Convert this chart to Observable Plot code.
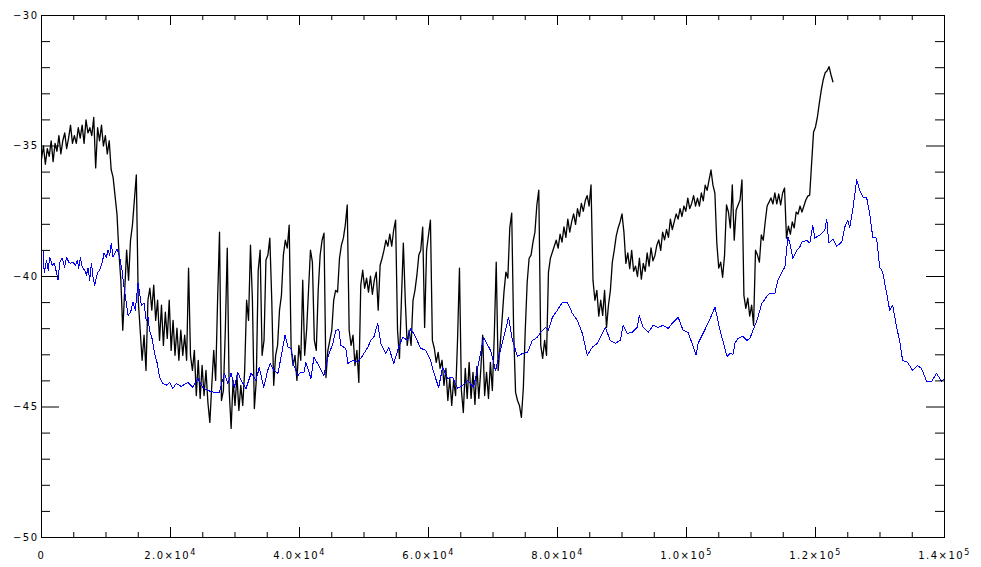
<!DOCTYPE html>
<html>
<head>
<meta charset="utf-8">
<script src="https://cdn.jsdelivr.net/npm/d3@7"></script>
<script src="https://cdn.jsdelivr.net/npm/@observablehq/plot@0.6"></script>
<style>
  html, body { margin: 0; padding: 0; background: #fff; }
</style>
</head>
<body>
<script>
// ---- axis ticks and labels ----
const xTickValues = [0, 20000, 40000, 60000, 80000, 100000, 120000, 140000];
const xTickLabels = ["0", "2.0×10⁴", "4.0×10⁴", "6.0×10⁴", "8.0×10⁴", "1.0×10⁵", "1.2×10⁵", "1.4×10⁵"];
const xMinorTicks = [5000, 10000, 15000, 25000, 30000, 35000, 45000, 50000, 55000, 65000, 70000, 75000,
  85000, 90000, 95000, 105000, 110000, 115000, 125000, 130000, 135000];
const yTickValues = [-50, -45, -40, -35, -30];
const yTickLabels = ["−50", "−45", "−40", "−35", "−30"];
const yMinorTicks = [-49, -48, -47, -46, -44, -43, -42, -41, -39, -38, -37, -36, -34, -33, -32, -31];

// ---- black series (age in ka, value) ----
const blackAgeKa = [
0,0.3,0.6,0.9,1.2,1.5,1.8,2.1,2.4,2.7,
3,3.3,3.6,3.9,4.2,4.5,4.8,5.1,5.4,5.7,
6,6.3,6.6,6.9,7.2,7.5,7.8,8.1,8.4,8.7,
9,9.3,9.6,9.9,10.2,10.5,10.8,11.1,11.4,11.7,
12,12.3,12.6,12.9,13.2,13.5,13.8,14.1,14.4,14.7,
15,15.3,15.6,15.9,16.2,16.5,16.8,17.1,17.4,17.7,
18,18.3,18.6,18.9,19.2,19.5,19.8,20.1,20.4,20.7,
21,21.3,21.6,21.9,22.2,22.5,22.8,23.1,23.4,23.7,
24,24.3,24.6,24.9,25.2,25.5,25.8,26.1,26.4,26.7,
27,27.3,27.6,27.9,28.2,28.5,28.8,29.1,29.4,29.7,
30,30.3,30.6,30.9,31.2,31.5,31.8,32.1,32.4,32.7,
33,33.3,33.6,33.9,34.2,34.5,34.8,35.1,35.4,35.7,
36,36.3,36.6,36.9,37.2,37.5,37.8,38.1,38.4,38.7,
39,39.3,39.6,39.9,40.2,40.5,40.8,41.1,41.4,41.7,
42,42.3,42.6,42.9,43.2,43.5,43.8,44.1,44.4,44.7,
45,45.3,45.6,45.9,46.2,46.5,46.8,47.1,47.4,47.7,
48,48.3,48.6,48.9,49.2,49.5,49.8,50.1,50.4,50.7,
51,51.3,51.6,51.9,52.2,52.5,52.8,53.1,53.4,53.7,
54,54.3,54.6,54.9,55.2,55.5,55.8,56.1,56.4,56.7,
57,57.3,57.6,57.9,58.2,58.5,58.8,59.1,59.4,59.7,
60,60.3,60.6,60.9,61.2,61.5,61.8,62.1,62.4,62.7,
63,63.3,63.6,63.9,64.2,64.5,64.8,65.1,65.4,65.7,
66,66.3,66.6,66.9,67.2,67.5,67.8,68.1,68.4,68.7,
69,69.3,69.6,69.9,70.2,70.5,70.8,71.1,71.4,71.7,
72,72.3,72.6,72.9,73.2,73.5,73.8,74.1,74.4,74.7,
75,75.3,75.6,75.9,76.2,76.5,76.8,77.1,77.4,77.7,
78,78.3,78.6,78.9,79.2,79.5,79.8,80.1,80.4,80.7,
81,81.3,81.6,81.9,82.2,82.5,82.8,83.1,83.4,83.7,
84,84.3,84.6,84.9,85.2,85.5,85.8,86.1,86.4,86.7,
87,87.3,87.6,87.9,88.2,88.5,88.8,89.1,89.4,89.7,
90,90.3,90.6,90.9,91.2,91.5,91.8,92.1,92.4,92.7,
93,93.3,93.6,93.9,94.2,94.5,94.8,95.1,95.4,95.7,
96,96.3,96.6,96.9,97.2,97.5,97.8,98.1,98.4,98.7,
99,99.3,99.6,99.9,100.2,100.5,100.8,101.1,101.4,101.7,
102,102.3,102.6,102.9,103.2,103.5,103.8,104.1,104.4,104.7,
105,105.3,105.6,105.9,106.2,106.5,106.8,107.1,107.4,107.7,
108,108.3,108.6,108.9,109.2,109.5,109.8,110.1,110.4,110.7,
111,111.3,111.6,111.9,112.2,112.5,112.8,113.1,113.4,113.7,
114,114.3,114.6,114.9,115.2,115.5,115.8,116.1,116.4,116.7,
117,117.3,117.6,117.9,118.2,118.5,118.8,119.1,119.4,119.7,
120,120.3,120.6,120.9,121.2,121.5,121.8,122.1,122.4,122.7
];
const blackValues = [
-35.5,-35.0,-35.7,-35.1,-35.4,-34.8,-35.6,-34.9,-35.2,-34.6,
-35.3,-34.8,-34.5,-35.1,-34.7,-34.2,-34.9,-34.6,-34.9,-34.3,
-34.7,-34.2,-34.9,-34.0,-34.5,-34.3,-34.6,-33.9,-35.84,-34.3,
-34.8,-34.2,-35.0,-34.6,-35.3,-34.8,-35.9,-36.2,-36.9,-37.6,
-39.07,-40.14,-42.06,-40.53,-38.99,-40.14,-38.61,-38.03,-37.07,-36.11,
-40.91,-42.06,-43.21,-42.25,-43.6,-40.91,-40.45,-41.29,-40.33,-41.68,
-40.91,-42.45,-41.1,-42.64,-41.37,-42.37,-40.91,-42.83,-41.68,-43.02,
-41.98,-43.21,-42.06,-43.02,-42.25,-43.21,-39.68,-43.02,-43.6,-42.83,
-44.56,-43.21,-44.67,-43.41,-44.56,-43.6,-44.83,-45.59,-44.17,-42.83,
-43.98,-40.91,-38.3,-44.75,-44.37,-42.06,-38.91,-44.37,-45.82,-43.98,
-44.94,-43.79,-45.13,-44.17,-44.94,-43.6,-40.91,-41.68,-38.8,-40.91,
-45.06,-43.98,-39.76,-38.99,-43.02,-42.45,-39.37,-39.18,-38.53,-40.91,
-44.17,-43.02,-42.64,-41.29,-40.72,-39.18,-38.61,-38.91,-38.03,-42.71,
-43.41,-43.02,-43.98,-42.64,-43.21,-40.14,-43.02,-42.06,-40.53,-38.99,
-39.45,-42.45,-42.83,-40.53,-39.18,-38.61,-38.34,-43.87,-42.83,-42.45,
-42.06,-40.91,-40.53,-40.6,-39.3,-38.8,-38.53,-38.03,-37.26,-42.06,
-42.64,-42.25,-43.41,-42.83,-44.06,-40.33,-39.76,-40.45,-40.06,-40.6,
-39.99,-40.68,-40.14,-39.83,-41.29,-39.57,-39.3,-38.99,-38.61,-38.84,
-38.38,-38.84,-38.22,-37.84,-42.06,-43.14,-40.91,-38.72,-40.91,-42.64,
-42.06,-42.64,-40.91,-40.53,-39.95,-39.18,-38.99,-38.11,-41.95,-38.99,
-38.41,-37.84,-42.45,-42.75,-43.29,-42.91,-43.52,-43.21,-44.17,-43.52,
-44.75,-43.9,-44.94,-43.98,-44.56,-42.45,-39.68,-44.37,-45.21,-43.52,
-44.67,-43.29,-44.67,-43.67,-44.9,-43.44,-44.67,-43.6,-42.25,-44.56,
-43.67,-44.67,-43.29,-44.37,-42.25,-39.45,-43.6,-42.64,-41.68,-40.6,
-39.83,-40.06,-38.14,-37.57,-42.06,-44.44,-44.75,-44.94,-45.4,-44.29,
-42.06,-40.22,-39.3,-39.18,-38.68,-38.3,-37.26,-36.69,-42.64,-43.14,
-42.45,-43.02,-39.83,-39.3,-39.07,-38.84,-38.61,-38.91,-38.38,-38.68,
-38.1,-38.5,-37.8,-38.3,-37.9,-37.6,-38.0,-37.4,-37.7,-37.2,
-37.5,-37.1,-36.9,-37.3,-36.49,-40.14,-40.91,-40.53,-41.52,-40.91,
-41.49,-40.53,-41.95,-41.1,-40.53,-39.45,-38.99,-38.45,-38.14,-37.91,
-37.6,-38.3,-39.5,-39.1,-39.7,-39.0,-39.8,-39.6,-40.0,-39.3,
-40.1,-39.5,-39.8,-39.1,-39.6,-38.9,-39.4,-39.2,-38.8,-38.6,
-39.0,-38.3,-38.6,-38.2,-38.5,-37.8,-38.2,-37.9,-37.6,-37.8,
-37.4,-37.7,-37.3,-37.5,-37.0,-37.4,-37.2,-36.9,-37.3,-37.0,
-37.3,-36.8,-37.1,-36.5,-36.7,-36.3,-35.92,-36.5,-36.8,-38.72,
-39.68,-39.45,-40.03,-39.18,-37.26,-37.53,-38.14,-36.49,-38.61,-37.45,
-37.26,-37.07,-36.3,-40.72,-41.22,-40.83,-41.52,-41.1,-41.87,-38.99,
-39.18,-39.45,-38.41,-38.61,-37.91,-37.3,-37.15,-36.99,-37.22,-36.8,
-37.22,-36.84,-37.26,-36.8,-36.61,-38.53,-38.07,-38.38,-37.91,-38.14,
-37.53,-37.61,-37.3,-37.53,-37.3,-37.07,-36.92,-36.88,-35.65,-34.46,
-34.27,-33.88,-33.35,-32.85,-32.46,-32.19,-32.12,-31.96,-32.27,-32.54
];

// ---- blue series (age in ka, value) ----
const blueAgeKa = [
0.26,0.42,0.77,1.04,1.28,1.66,1.96,2.17,2.58,2.83,
3.20,3.60,3.87,4.22,4.53,4.90,5.26,5.57,5.77,6.03,
6.30,6.70,6.96,7.22,7.47,7.74,8.00,8.25,8.66,9.02,
9.39,9.70,10.06,10.32,10.57,10.83,11.09,11.34,11.76,12.11,
12.48,12.79,13.15,13.41,13.81,14.19,14.54,14.96,15.21,15.47,
15.89,16.24,16.51,16.75,17.13,17.53,17.95,18.30,18.83,19.34,
19.85,20.37,20.88,21.66,22.69,23.47,24.24,25.01,25.79,26.81,
27.58,28.36,28.88,29.39,29.90,30.43,30.94,31.71,32.49,33.26,
33.77,34.45,35.07,35.47,36.05,36.66,37.13,37.75,38.21,38.67,
39.14,39.76,40.22,40.68,40.99,41.77,42.23,43.01,43.78,44.40,
45.17,45.64,46.10,46.41,47.18,47.49,48.27,49.04,49.81,50.59,
51.05,51.52,52.13,52.60,53.37,53.84,54.61,55.38,56.00,56.77,
57.24,58.01,58.79,59.56,60.33,60.80,61.57,62.19,62.96,63.74,
64.51,65.28,66.06,66.99,68.07,68.53,69.62,70.39,71.16,71.94,
72.40,73.02,73.79,74.57,75.34,76.11,76.89,77.35,78.12,78.59,
79.21,79.98,80.75,81.53,82.30,83.07,83.85,84.62,85.39,86.17,
86.94,87.41,88.18,88.95,89.73,90.19,90.81,91.58,92.36,92.67,
93.28,94.06,94.83,95.60,96.38,97.15,97.93,98.70,99.47,100.25,
100.86,101.48,101.79,102.57,103.34,104.42,105.20,106.28,106.74,107.21,
107.52,107.98,108.75,109.37,109.84,110.30,110.92,111.69,112.47,112.93,
113.70,114.17,114.79,115.25,115.72,116.03,116.49,117.11,117.57,117.88,
118.65,119.12,119.58,119.89,120.67,121.44,121.75,122.06,122.68,123.30,
124.07,124.53,125.00,125.31,125.77,126.39,126.85,127.32,127.94,128.40,
128.87,129.48,129.95,130.41,131.03,131.50,131.96,132.58,133.04,133.50,
134.28,135.05,135.83,136.44,137.22,137.99,138.77,139.54,140.0
];
const blueValues = [
-39.05,-39.87,-39.37,-39.76,-39.26,-39.57,-39.49,-39.68,-40.14,-39.45,
-39.30,-39.64,-39.26,-39.45,-39.49,-39.45,-39.57,-39.37,-39.68,-39.26,
-39.64,-39.76,-39.95,-39.68,-40.14,-39.49,-40.03,-40.33,-39.87,-39.76,
-39.49,-39.11,-39.26,-38.99,-39.18,-38.72,-39.26,-39.11,-38.95,-39.26,
-39.76,-40.41,-41.03,-41.49,-41.37,-40.99,-41.29,-40.26,-40.64,-41.10,
-41.03,-41.68,-41.56,-42.06,-42.37,-42.95,-43.33,-43.87,-44.10,-44.17,
-44.06,-44.29,-44.10,-44.21,-44.06,-44.25,-43.90,-44.25,-44.37,-44.44,
-44.44,-43.71,-44.10,-43.71,-44.25,-43.67,-43.98,-44.29,-43.71,-43.98,
-43.48,-44.25,-43.60,-43.33,-43.60,-43.71,-43.10,-42.25,-42.71,-42.75,
-43.41,-43.79,-43.67,-43.67,-43.29,-43.90,-43.10,-43.41,-43.79,-43.10,
-42.56,-42.06,-42.02,-42.64,-42.75,-43.33,-43.21,-43.29,-43.02,-42.71,
-42.45,-42.33,-41.79,-42.56,-42.95,-42.71,-43.33,-42.71,-42.33,-42.45,
-41.99,-42.33,-42.75,-42.83,-43.21,-43.67,-44.25,-43.48,-43.90,-43.87,
-44.29,-44.17,-43.98,-44.25,-42.95,-42.33,-42.83,-43.60,-42.83,-42.06,
-41.56,-42.45,-43.06,-42.95,-42.91,-42.45,-42.33,-42.14,-41.95,-42.06,
-41.56,-41.29,-40.99,-40.99,-41.41,-41.68,-42.18,-43.02,-42.71,-42.56,
-42.18,-41.95,-42.45,-42.56,-42.45,-41.87,-42.18,-42.14,-41.95,-41.49,
-41.95,-42.14,-41.87,-41.95,-41.87,-41.99,-41.75,-41.56,-42.06,-42.14,
-42.56,-43.02,-42.56,-42.18,-41.79,-41.18,-42.06,-43.06,-42.95,-42.98,
-42.56,-42.37,-42.29,-42.45,-42.37,-42.06,-41.68,-41.03,-40.76,-40.64,
-40.64,-40.14,-39.83,-39.64,-38.49,-38.72,-39.30,-38.99,-38.87,-38.68,
-38.61,-38.72,-38.03,-38.53,-38.41,-38.22,-37.80,-38.72,-38.57,-38.84,
-38.68,-38.11,-37.84,-38.11,-37.45,-36.30,-36.69,-36.95,-36.99,-37.57,
-38.49,-38.53,-39.64,-39.83,-40.64,-41.29,-41.10,-41.95,-42.45,-43.21,
-43.29,-43.60,-43.41,-43.52,-44.02,-44.02,-43.71,-44.02,-43.90
];

// ---- tables for the library ----
const black = blackAgeKa.map((a, i) => ({age: a * 1000, value: blackValues[i]}));
const blue = blueAgeKa.map((a, i) => ({age: a * 1000, value: blueValues[i]}));

const W = 981, H = 567, mL = 41, mR = 37, mT = 15, mB = 30;
const iw = W - mL - mR, ih = H - mT - mB;

const chart = Plot.plot({
  width: W,
  height: H,
  marginLeft: mL,
  marginRight: mR,
  marginTop: mT,
  marginBottom: mB,
  x: {domain: [0, 140000]},
  y: {domain: [-50, -30]},
  style: {fontFamily: "'DejaVu Sans', sans-serif", fontSize: "10px", letterSpacing: "1.5px", background: "#fff", color: "#000"},
  marks: [
    Plot.line(black, {x: "age", y: "value", stroke: "#000", strokeWidth: 1.3}),
    Plot.line(blue, {x: "age", y: "value", stroke: "#0000ff", strokeWidth: 1, shapeRendering: "crispEdges"}),
    Plot.frame({stroke: "#000", strokeWidth: 1}),
    Plot.ruleX(xTickValues, {insetTop: ih - 10, stroke: "#000"}),
    Plot.ruleX(xTickValues, {insetBottom: ih - 10, stroke: "#000"}),
    Plot.ruleX(xMinorTicks, {insetTop: ih - 5, stroke: "#000"}),
    Plot.ruleX(xMinorTicks, {insetBottom: ih - 5, stroke: "#000"}),
    Plot.ruleY(yTickValues, {insetRight: iw - 18, stroke: "#000"}),
    Plot.ruleY(yTickValues, {insetLeft: iw - 18, stroke: "#000"}),
    Plot.ruleY(yMinorTicks, {insetRight: iw - 9, stroke: "#000"}),
    Plot.ruleY(yMinorTicks, {insetLeft: iw - 9, stroke: "#000"}),
    Plot.axisX({ticks: xTickValues, tickFormat: d => xTickLabels[xTickValues.indexOf(d)], tickSize: 0, tickPadding: 14, label: null, fill: "#000"}),
    Plot.axisY({ticks: yTickValues, tickFormat: d => yTickLabels[yTickValues.indexOf(d)], tickSize: 0, tickPadding: 3, label: null, fill: "#000"})
  ]
});
document.body.appendChild(chart);

// render superscript exponents of the x tick labels as raised tspans (still real text)
const supMap = {"⁴": "4", "⁵": "5"};
d3.select(chart).selectAll("text").each(function () {
  const t = this.textContent;
  const m = t.match(/^(.*×10)([⁴⁵])$/);
  if (m) {
    const sel = d3.select(this);
    sel.text(null);
    sel.append("tspan").text(m[1]);
    sel.append("tspan").attr("font-size", "8px").attr("dy", "-4").text(supMap[m[2]]);
  }
});
</script>
</body>
</html>
